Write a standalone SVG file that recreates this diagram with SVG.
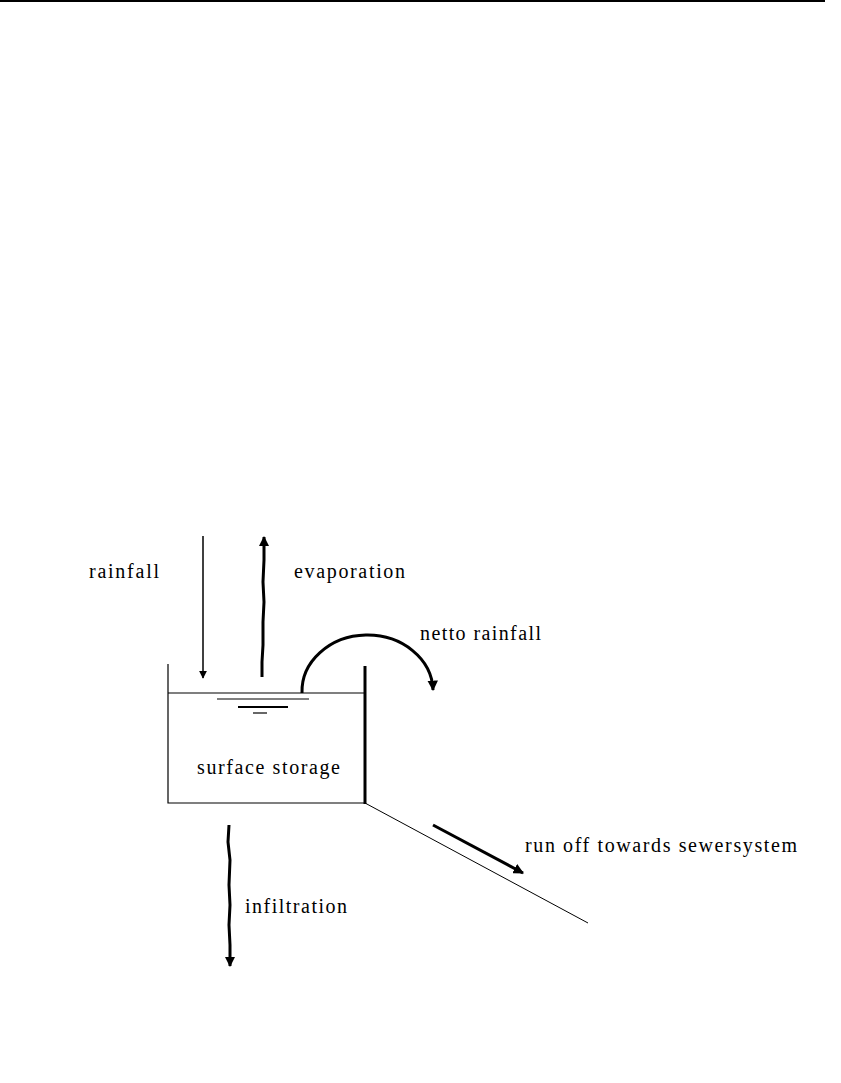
<svg xmlns="http://www.w3.org/2000/svg" width="841" height="1083" viewBox="0 0 841 1083">
<style>
text{font-family:"Liberation Serif","Times New Roman",serif;font-size:20px;fill:#000}
.thin{stroke:#000;stroke-width:1.2;fill:none}
.thick{stroke:#000;stroke-width:3;fill:none}
</style>
<defs>
<marker id="ah" viewBox="0 0 10 10" refX="9" refY="5" markerWidth="3.5" markerHeight="3.5" orient="auto" markerUnits="strokeWidth">
<path d="M0,0 L10,5 L0,10 z" fill="#000"/>
</marker>
<marker id="ahs" viewBox="0 0 10 10" refX="9" refY="5" markerWidth="8" markerHeight="8" orient="auto" markerUnits="userSpaceOnUse">
<path d="M0,0 L10,5 L0,10 z" fill="#000"/>
</marker>
</defs>
<rect width="841" height="1083" fill="#fff"/>
<line x1="0" y1="1" x2="825" y2="1" stroke="#000" stroke-width="2"/>
<g id="storage">
<path class="thin" d="M168,664 L168,803 L365,803"/>
<line class="thin" x1="168" y1="693" x2="365" y2="693"/>
<line x1="365" y1="666" x2="365" y2="804" stroke="#000" stroke-width="3"/>
<line x1="217" y1="699" x2="309" y2="699" stroke="#000" stroke-width="1.2"/>
<line x1="238" y1="707" x2="288" y2="707" stroke="#000" stroke-width="2"/>
<line x1="253" y1="713" x2="267" y2="713" stroke="#000" stroke-width="1.2"/>
<text x="197" y="774" textLength="143" lengthAdjust="spacing">surface storage</text>
</g>
<g id="ground">
<path d="M365,803 L588,923" stroke="#000" stroke-width="1" fill="none"/>
</g>
<g id="connectors">
<line x1="203" y1="536" x2="203" y2="678" stroke="#000" stroke-width="1.5" marker-end="url(#ahs)"/>
<path class="thick" d="M262,677 L262,662 L263,645 L263,622 L264,602 L263,582 L264,560 L264,537" marker-end="url(#ah)"/>
<path class="thick" d="M302,693 A65,56 0 0 1 433,690" marker-end="url(#ah)"/>
<line class="thick" x1="433" y1="825" x2="523" y2="873" marker-end="url(#ah)"/>
<path class="thick" d="M229,825 L228,842 L230,860 L229,885 L230,905 L229,925 L230,945 L230,966" marker-end="url(#ah)"/>
</g>
<g id="labels">
<text x="89" y="578" textLength="70" lengthAdjust="spacing">rainfall</text>
<text x="294" y="578" textLength="111" lengthAdjust="spacing">evaporation</text>
<text x="420" y="640" textLength="121" lengthAdjust="spacing">netto rainfall</text>
<text x="525" y="852" textLength="272" lengthAdjust="spacing">run off towards  sewersystem</text>
<text x="245" y="913" textLength="102" lengthAdjust="spacing">infiltration</text>
</g>
</svg>
